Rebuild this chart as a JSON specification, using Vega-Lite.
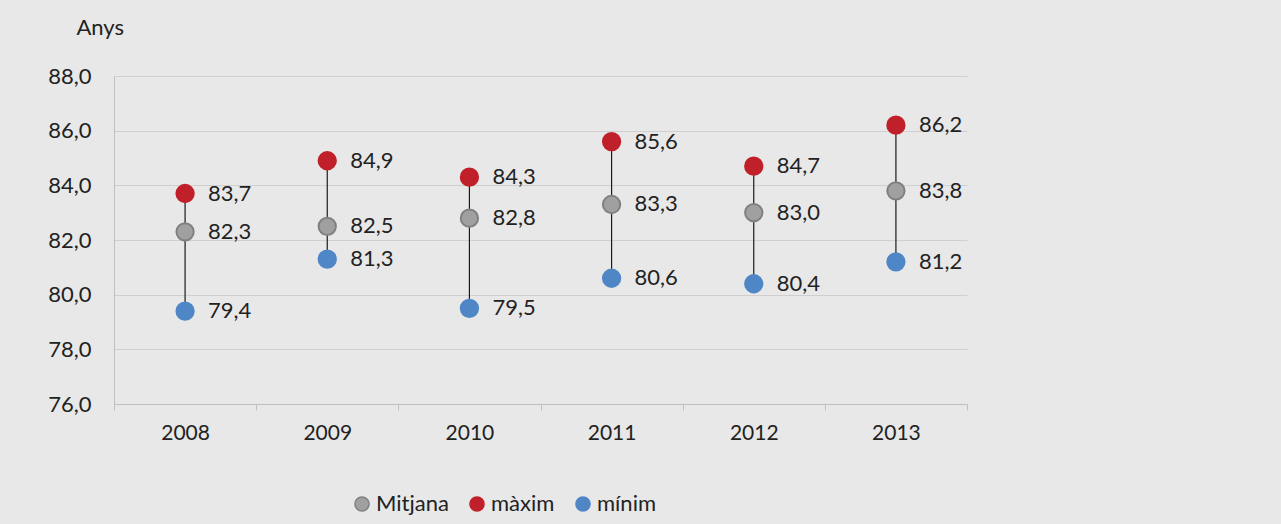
{
  "$schema": "https://vega.github.io/schema/vega-lite/v6.json",
  "width": 853,
  "height": 328,
  "autosize": {"type": "none"},
  "padding": {"left": 114, "top": 76, "right": 314, "bottom": 120},
  "background": "#e8e8e8",
  "config": {
    "locale": {"number": {"decimal": ",", "thousands": ".", "grouping": [3], "currency": ["", " €"]}},
    "view": {"stroke": null},
    "font": "Lato"
  },
  "data": {
    "values": [
      {"year": "2008", "Mitjana": 82.3, "màxim": 83.7, "mínim": 79.4},
      {"year": "2009", "Mitjana": 82.5, "màxim": 84.9, "mínim": 81.3},
      {"year": "2010", "Mitjana": 82.8, "màxim": 84.3, "mínim": 79.5},
      {"year": "2011", "Mitjana": 83.3, "màxim": 85.6, "mínim": 80.6},
      {"year": "2012", "Mitjana": 83.0, "màxim": 84.7, "mínim": 80.4},
      {"year": "2013", "Mitjana": 83.8, "màxim": 86.2, "mínim": 81.2}
    ]
  },
  "encoding": {
    "x": {
      "field": "year", "type": "nominal",
      "scale": {"paddingInner": 0, "paddingOuter": 0},
      "axis": {
        "title": null, "labelAngle": 0, "labelFontSize": 21, "labelColor": "#222222",
        "labelPadding": 12, "domainColor": "#c0c0c0", "tickColor": "#c0c0c0",
        "tickBand": "extent", "tickSize": 6, "grid": false
      }
    }
  },
  "layer": [
    {
      "mark": {"type": "rule", "color": "#1a1a1a", "strokeWidth": 1.2},
      "encoding": {
        "y": {"field": "mínim", "type": "quantitative",
          "scale": {"domain": [76, 88], "nice": false, "zero": false},
          "axis": {
            "title": "Anys", "titleAngle": 0, "titleAlign": "left", "titleBaseline": "middle",
            "titleX": -38, "titleY": -49, "titleFontSize": 22, "titleFontWeight": "normal", "titleColor": "#222222",
            "values": [76, 78, 80, 82, 84, 86, 88], "format": ".1f",
            "labelFontSize": 22, "labelColor": "#222222", "labelPadding": 23,
            "ticks": false, "domainColor": "#c0c0c0", "gridColor": "#cfcfcf", "gridWidth": 1.2
          }
        },
        "y2": {"field": "màxim"}
      }
    },
    {
      "transform": [{"fold": ["Mitjana", "màxim", "mínim"], "as": ["serie", "valor"]}],
      "layer": [
        {
          "mark": {"type": "point", "filled": true, "opacity": 1, "size": 300, "strokeWidth": 2},
          "encoding": {
            "y": {"field": "valor", "type": "quantitative"},
            "color": {
              "field": "serie", "type": "nominal",
              "scale": {"domain": ["Mitjana", "màxim", "mínim"], "range": ["#a0a0a0", "#c0202a", "#4f86c6"]},
              "legend": {
                "title": null, "orient": "none", "direction": "horizontal",
                "legendX": 237, "legendY": 417, "labelFontSize": 22, "labelColor": "#222222",
                "symbolSize": 200, "symbolType": "circle", "columnPadding": 17, "labelOffset": 3
              }
            },
            "stroke": {
              "field": "serie", "type": "nominal",
              "scale": {"domain": ["Mitjana", "màxim", "mínim"], "range": ["#808080", "#c0202a", "#4f86c6"]},
              "legend": null
            }
          }
        },
        {
          "mark": {"type": "text", "align": "left", "baseline": "middle", "dx": 23, "fontSize": 22, "color": "#222222"},
          "encoding": {
            "y": {"field": "valor", "type": "quantitative"},
            "text": {"field": "valor", "type": "quantitative", "format": ".1f"}
          }
        }
      ]
    }
  ]
}
